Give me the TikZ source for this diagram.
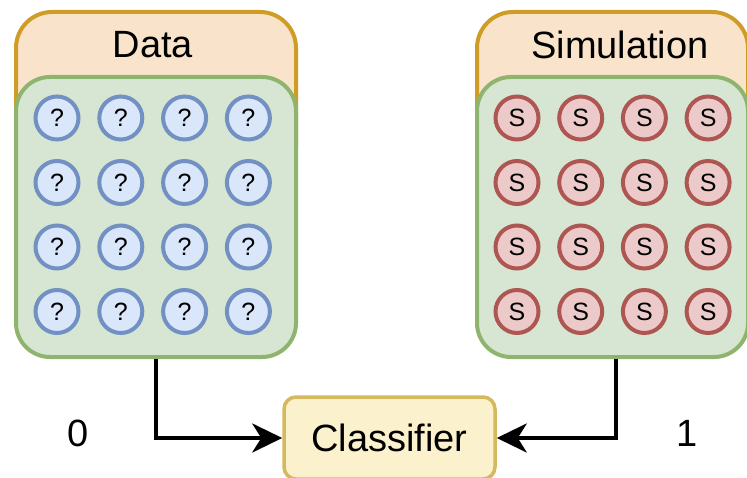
\documentclass[tikz,border=0pt]{standalone}
\usepackage{fontspec}
\setmainfont{Liberation Sans}
\usetikzlibrary{arrows.meta}
\definecolor{orangeline}{HTML}{CF9C26}
\definecolor{orangefill}{HTML}{F9E4CB}
\definecolor{greenline}{HTML}{8FB46D}
\definecolor{greenfill}{HTML}{D7E6D3}
\definecolor{blueline}{HTML}{7290C1}
\definecolor{bluefill}{HTML}{DAE6FA}
\definecolor{redline}{HTML}{AE5651}
\definecolor{redfill}{HTML}{EDCACA}
\definecolor{yellowline}{HTML}{D4B95E}
\definecolor{yellowfill}{HTML}{FCF1CD}

\begin{document}
\begin{tikzpicture}[x=1pt,y=-1pt,
    header/.style={draw=orangeline,fill=orangefill,line width=4pt,rounded corners=36pt,minimum height=170pt,anchor=north west},
    pool/.style={draw=greenline,fill=greenfill,line width=4pt,rounded corners=34pt,minimum height=280pt,anchor=north west},
    dot/.style={circle,line width=4pt,minimum size=43pt,inner sep=0pt,font=\fontsize{25}{25}\selectfont},
    qdot/.style={dot,draw=blueline,fill=bluefill},
    sdot/.style={dot,draw=redline,fill=redfill},
    big/.style={font=\fontsize{38}{40}\selectfont},
    clf/.style={draw=yellowline,fill=yellowfill,line width=3.5pt,rounded corners=12pt,minimum width=211pt,minimum height=82pt,big},
    link/.style={line width=4pt,-{Stealth[length=30pt,width=29pt,inset=9pt]}}]
    %
    \useasboundingbox (0,0) rectangle (747,478);
    \clip (0,0) rectangle (747,478);
    %
    \node[header,minimum width=280pt] (datahead) at (14,10) {};
    \node[header,minimum width=271pt] (simhead) at (475,10) {};
    \node[pool,minimum width=280pt] (datapool) at (14,75) {};
    \node[pool,minimum width=271pt] (simpool) at (475,75) {};
    %
    \node[big] (datatitle) at (153,45) {Data};
    \node[big] (simtitle) at (620,45) {Simulation};
    %
    \foreach \r in {0,...,3}
    \foreach \c in {0,...,3} {
        \node[qdot] (q\r\c) at (57+63.8*\c,118+64.5*\r) {?};
        \node[sdot] (s\r\c) at (517+63.7*\c,118+64.5*\r) {S};
    }
    %
    \node[clf] (classifier) at (389.5,438) {Classifier};
    \node[big] (zero) at (78,433) {0};
    \node[big] (one) at (687,433) {1};
    %
    \draw[link] (datapool.south) |- (classifier.west);
    \draw[link] ([xshift=3.5pt]simpool.south) |- (classifier.east);
    %
\end{tikzpicture}
\end{document}
